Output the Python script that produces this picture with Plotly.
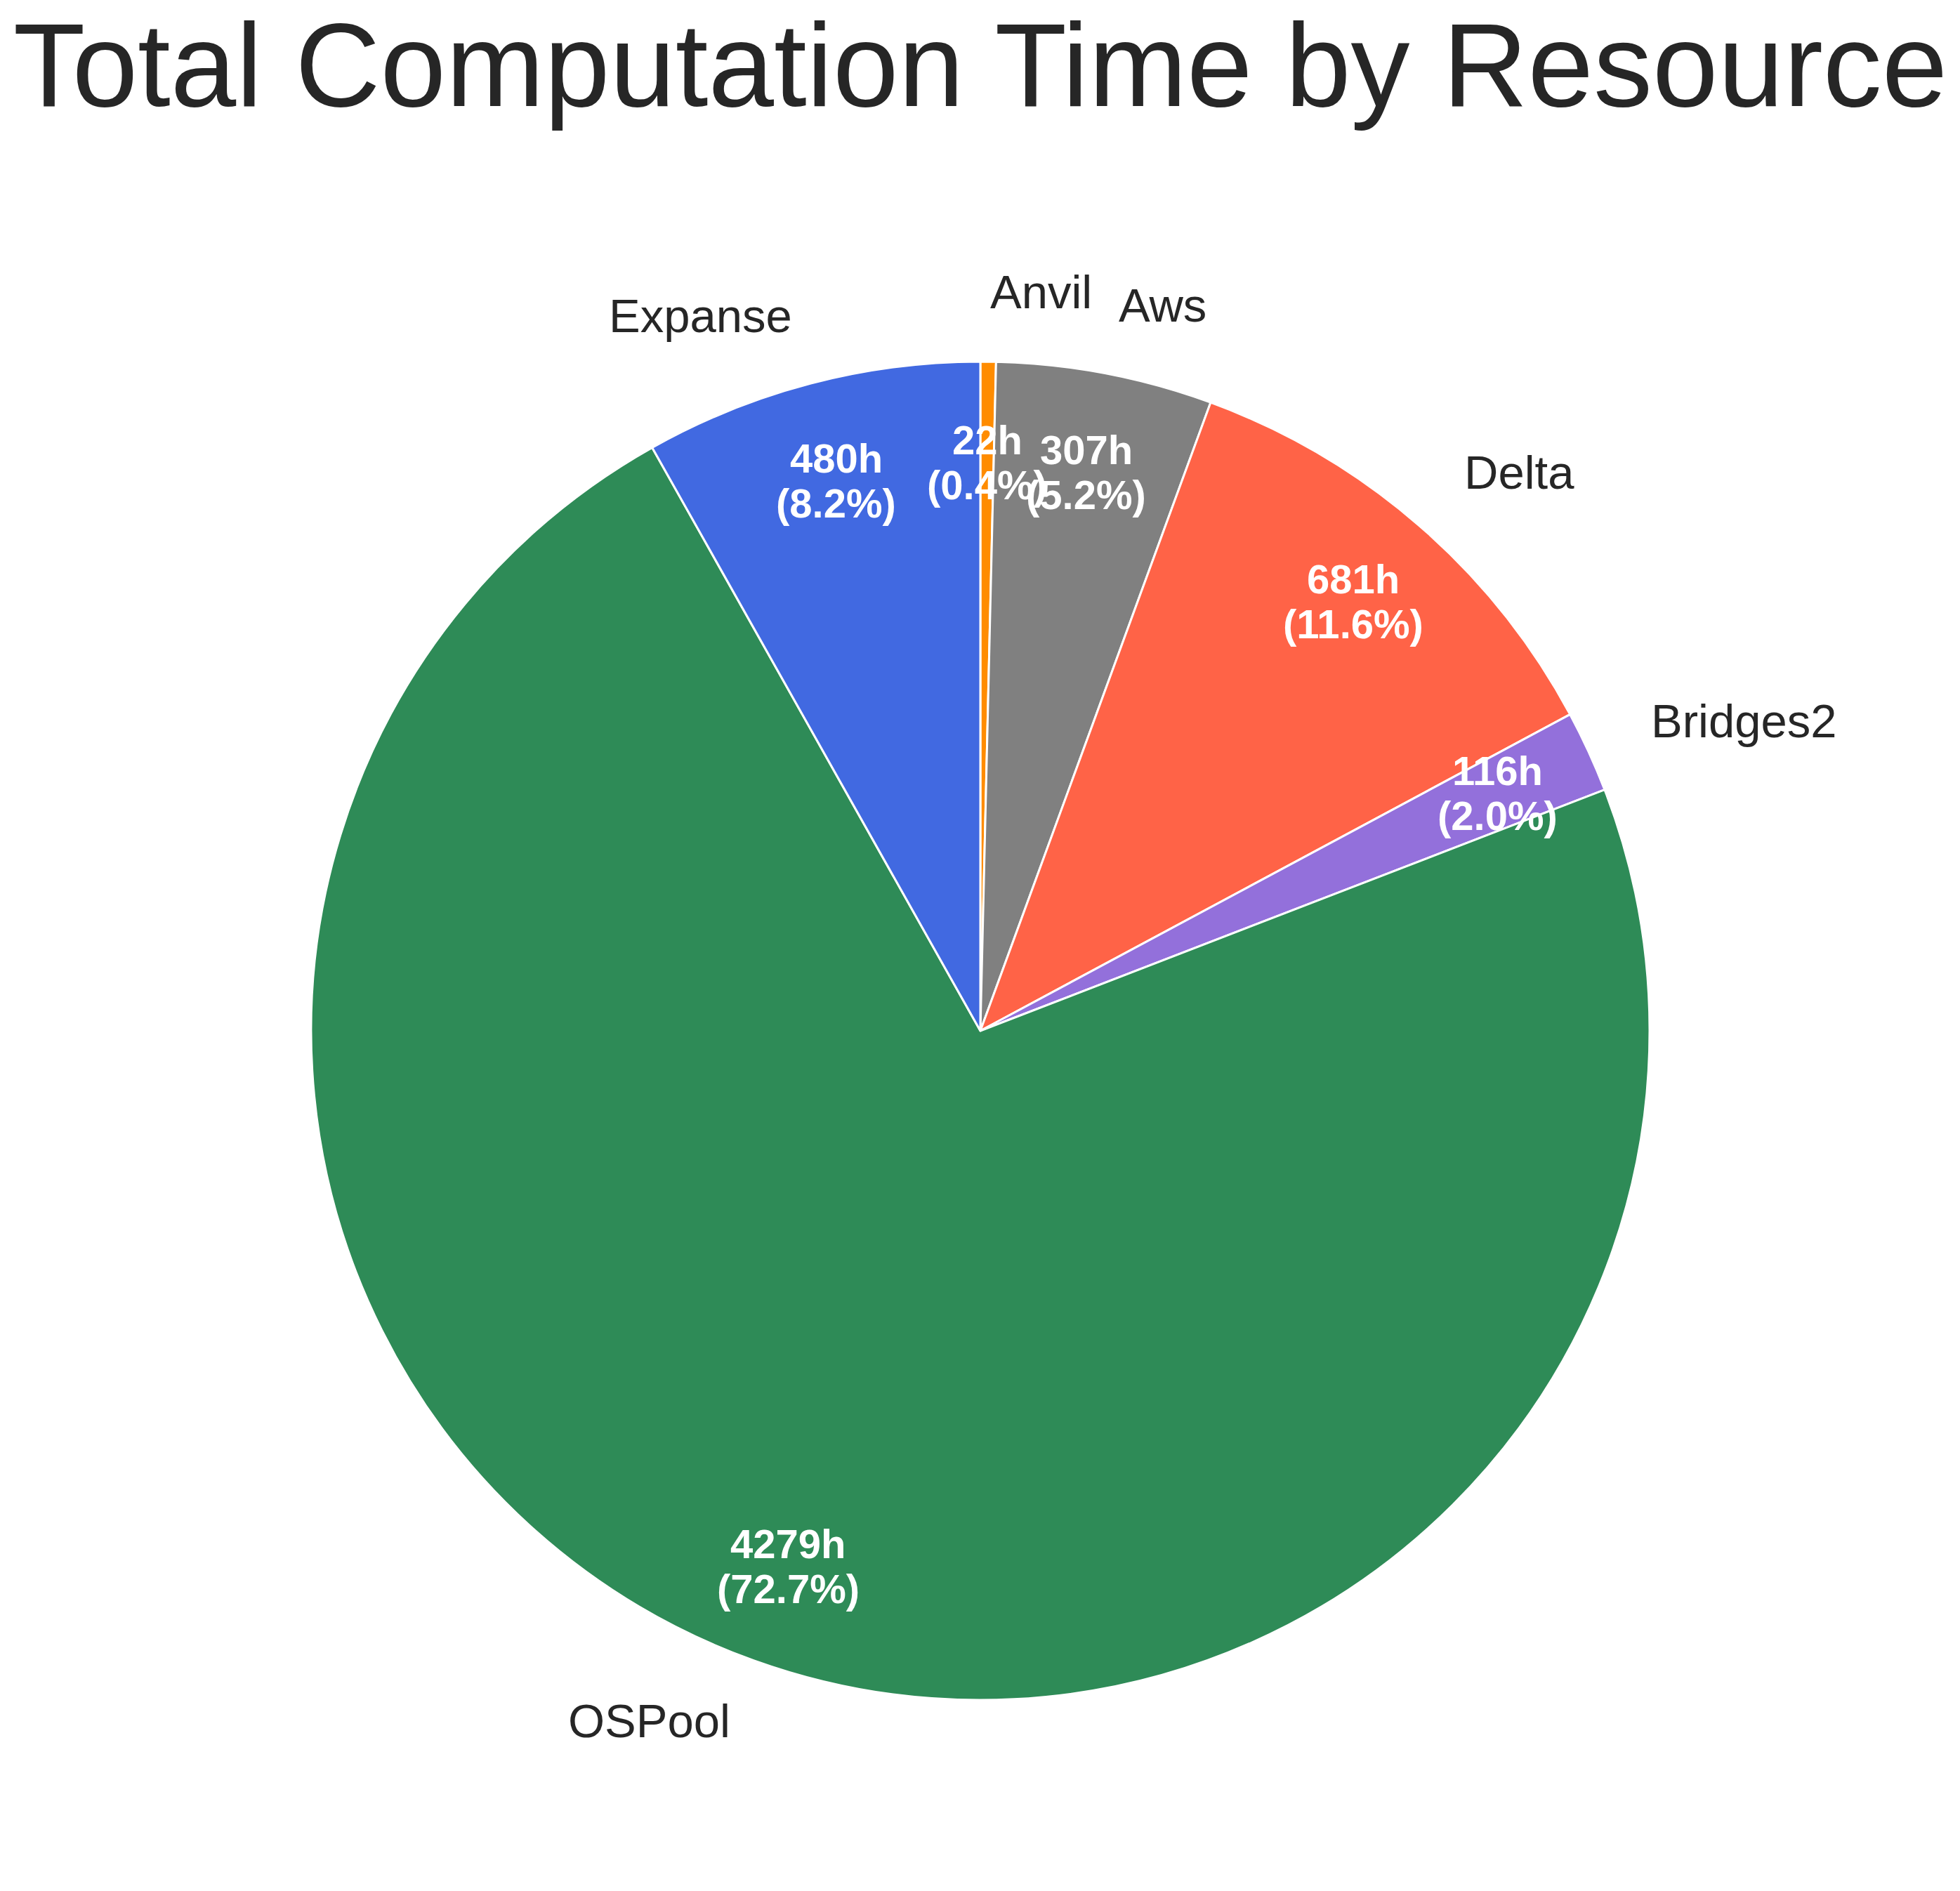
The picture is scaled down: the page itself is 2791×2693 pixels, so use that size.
import math
import plotly.graph_objects as go

# Data (clockwise from 12 o'clock)
resources = ["Anvil", "Aws", "Delta", "Bridges2", "OSPool", "Expanse"]
hours = [22, 307, 681, 116, 4279, 480]
colors = ["#FF8C00", "#808080", "#FF6347", "#9370DB", "#2E8B57", "#4169E1"]

W, H = 2791, 2693
CX, CY, R = 1396, 1468, 953  # pie centre/radius in pixels

TEXT = "#262626"
FONT = "Liberation Sans, Arial, sans-serif"

fig = go.Figure(go.Pie(
    labels=resources,
    values=hours,
    sort=False,
    direction="clockwise",
    rotation=0,
    marker=dict(colors=colors, line=dict(color="white", width=3)),
    textinfo="none",
    hoverinfo="label+value+percent",
    showlegend=False,
    domain=dict(x=[(CX - R) / W, (CX + R) / W], y=[1 - (CY + R) / H, 1 - (CY - R) / H]),
))

total = sum(hours)
annotations = []
cum = 0.0
for name, v in zip(resources, hours):
    frac = v / total
    mid_deg = 90 - 360 * (cum + frac / 2)
    cum += frac
    th = math.radians(mid_deg)
    c, s = math.cos(th), math.sin(th)
    # inner value text at 0.85 r
    px = CX + 0.85 * R * c
    py = CY - 0.85 * R * s
    pct = 100 * frac
    for line, dy in ((f"{v}h", -32), (f"({pct:.1f}%)", 32)):
        annotations.append(dict(
            x=px / W, y=1 - (py + dy) / H, xref="paper", yref="paper",
            text=f"<b>{line}</b>", showarrow=False,
            xanchor="center", yanchor="middle",
            font=dict(family=FONT, size=58, color="white"),
        ))
    # outer label at 1.1 r
    lx = CX + 1.1 * R * c
    ly = CY - 1.1 * R * s
    annotations.append(dict(
        x=lx / W, y=1 - ly / H, xref="paper", yref="paper",
        text=name, showarrow=False, yshift=4,
        xanchor="left" if lx - CX > 0 else "right", yanchor="middle",
        font=dict(family=FONT, size=67, color=TEXT),
    ))

fig.update_layout(
    width=W, height=H,
    margin=dict(l=0, r=0, t=0, b=0),
    paper_bgcolor="white",
    plot_bgcolor="white",
    title=dict(
        text="Total Computation Time by Resource",
        x=CX / W, xanchor="center", xref="paper",
        y=1 - 92 / H, yanchor="middle", yref="container",
        font=dict(family=FONT, size=168, color=TEXT),
    ),
    annotations=annotations,
)

fig.write_html("out.html")
